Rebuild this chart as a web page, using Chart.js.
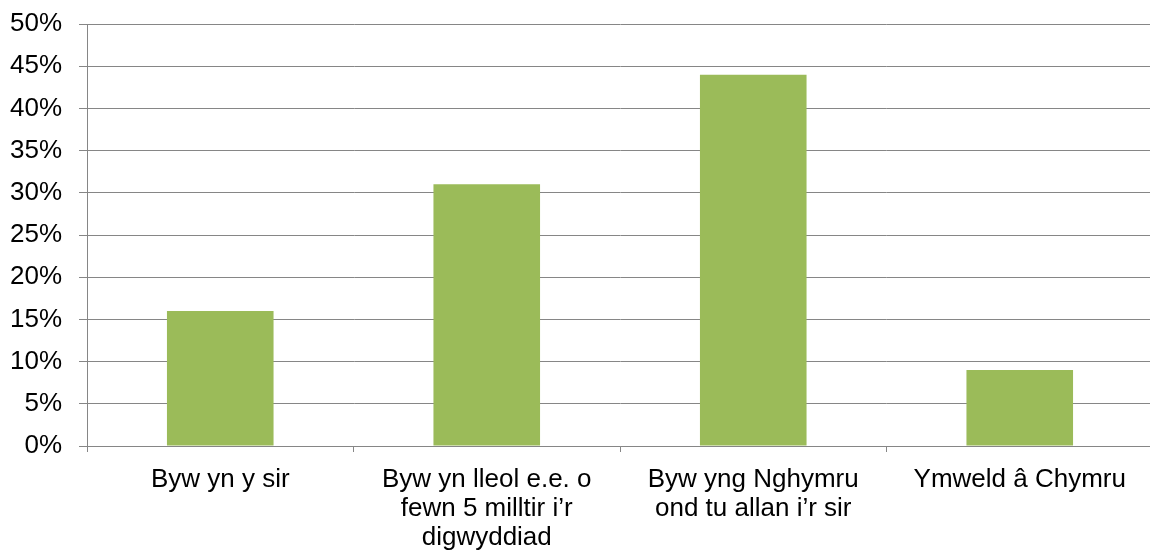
<!DOCTYPE html>
<html>
<head>
<meta charset="utf-8">
<script src="https://cdn.jsdelivr.net/npm/chart.js@4/dist/chart.umd.min.js"></script>
<style>
  html, body { margin: 0; padding: 0; background: #fff; overflow: hidden; }
  #wrap { width: 1153px; height: 551px; }
</style>
</head>
<body>
<div id="wrap"><canvas id="chart"></canvas></div>
<script>
// categorïau (wedi'u torri'n llinellau fel yn y llun)
const categories = [
  ["Byw yn y sir"],
  ["Byw yn lleol e.e. o", "fewn 5 milltir i’r", "digwyddiad"],
  ["Byw yng Nghymru", "ond tu allan i’r sir"],
  ["Ymweld â Chymru"]
];
const values = [16, 31, 44, 9];
const yMax = 50;
const yStep = 5;

const GRID = "#868686";
const BAR = "#9BBB59";
const FONT = "'Liberation Sans', Arial, sans-serif";

new Chart(document.getElementById("chart"), {
  type: "bar",
  data: {
    labels: categories,
    datasets: [{
      data: values,
      backgroundColor: BAR,
      borderWidth: 0,
      barPercentage: 0.4,
      categoryPercentage: 1
    }]
  },
  options: {
    responsive: true,
    maintainAspectRatio: false,
    animation: false,
    layout: { padding: { left: 0, top: 24, right: 0, bottom: 0 } },
    plugins: { legend: { display: false }, tooltip: { enabled: false } },
    scales: {
      x: {
        afterFit: s => { s.height = 105; },
        grid: { drawOnChartArea: false, color: GRID, tickLength: 6, lineWidth: 1 },
        border: { color: GRID, width: 1 },
        ticks: {
          color: "#000",
          padding: 14,
          maxRotation: 0,
          autoSkip: false,
          font: { family: FONT, size: 26, lineHeight: 1.1 }
        }
      },
      y: {
        min: 0,
        max: yMax,
        afterFit: s => { s.width = 87; s.paddingTop = 0; s.paddingBottom = 0; },
        grid: { color: GRID, tickLength: 8, lineWidth: 1 },
        border: { color: GRID, width: 1 },
        ticks: {
          stepSize: yStep,
          color: "#000",
          padding: 17,
          font: { family: FONT, size: 26, lineHeight: 1 },
          callback: v => v + "%"
        }
      }
    }
  }
});
</script>
</body>
</html>
